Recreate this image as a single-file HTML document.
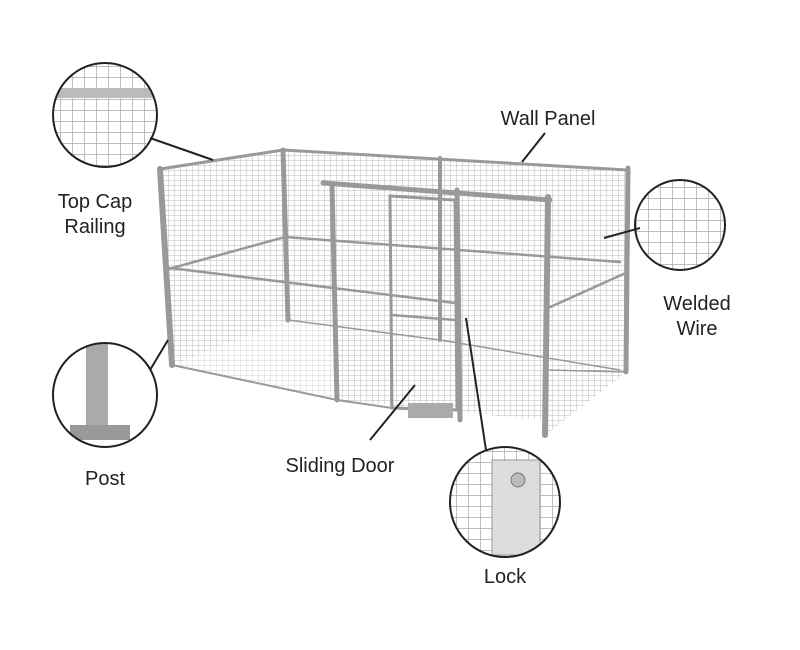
<!DOCTYPE html>
<html><head><style>
html,body{margin:0;padding:0;background:#fff;width:800px;height:650px;overflow:hidden}
svg{display:block}
text{font-family:"Liberation Sans",Arial,sans-serif;font-size:20px;fill:#222}
</style></head><body>
<svg width="800" height="650" viewBox="0 0 800 650">
<defs>
<pattern id="g" width="6" height="5" patternUnits="userSpaceOnUse">
<path d="M0 0H6M0 0V5" stroke="#b8b8b8" stroke-width="1" fill="none"/>
</pattern>
<pattern id="gf" width="6" height="5" patternUnits="userSpaceOnUse">
<path d="M0 0H6M0 0V5" stroke="#d4d4d4" stroke-width="1" fill="none"/>
</pattern>
<pattern id="gb" width="12" height="11" patternUnits="userSpaceOnUse">
<path d="M0 0H12M0 0V11" stroke="#aaa" stroke-width="1.5" fill="none"/>
</pattern>
<clipPath id="c1"><circle cx="105" cy="115" r="52"/></clipPath>
<clipPath id="c2"><circle cx="680" cy="225" r="45"/></clipPath>
<clipPath id="c3"><circle cx="105" cy="395" r="52"/></clipPath>
<clipPath id="c4"><circle cx="505" cy="502" r="55"/></clipPath>
</defs>
<g stroke="none">
<polygon fill="url(#gf)" points="172,365 288,320 540,360 540,420 337,400"/>
<polygon fill="url(#g)" points="160,169 283,150 288,320 172,365"/>
<polygon fill="url(#g)" points="283,150 627,170 620,370 288,320"/>
<polygon fill="url(#g)" points="548,197 628,168 626,372 545,435"/>
<polygon fill="url(#g)" points="335,185 548,200 545,420 337,400"/>
</g>
<g stroke="#999" fill="none" stroke-linecap="round">
<path d="M160,169 L283,150 L627,170" stroke-width="3"/>
<path d="M160,169 L172,365" stroke-width="6"/>
<path d="M283,150 L288,320" stroke-width="5"/>
<path d="M440,158 L440,340" stroke-width="4"/>
<path d="M628,168 L626,372" stroke-width="5"/>
<path d="M548,197 L545,435" stroke-width="6"/>
<path d="M323,183 L550,200" stroke-width="5"/>
<path d="M332,185 L337,400" stroke-width="5"/>
<path d="M390,196 L455,200 L457,410 L392,408 Z" stroke-width="3"/>
<path d="M457,190 L460,420" stroke-width="5"/>
<path d="M165,270 L285,237 L620,262" stroke-width="2.5"/>
<path d="M170,268 L455,303" stroke-width="2.5"/>
<path d="M392,315 L455,320" stroke-width="2.5"/>
<path d="M548,308 L628,272" stroke-width="2.5"/>
<path d="M172,365 L337,400 L392,408" stroke-width="2"/>
<path d="M288,320 L440,340 L620,370" stroke-width="1.5"/>
<path d="M548,370 L626,372" stroke-width="1.5"/>
</g>
<rect x="408" y="403" width="45" height="15" fill="#aaa"/>
<g clip-path="url(#c1)"><rect x="50" y="60" width="110" height="110" fill="url(#gb)"/><rect x="50" y="88" width="110" height="10" fill="#bbb"/></g>
<circle cx="105" cy="115" r="52" fill="none" stroke="#222" stroke-width="2"/>
<g clip-path="url(#c2)"><rect x="630" y="175" width="100" height="100" fill="url(#gb)"/></g>
<circle cx="680" cy="225" r="45" fill="none" stroke="#222" stroke-width="2"/>
<g clip-path="url(#c3)"><rect x="86" y="340" width="22" height="100" fill="#aaa"/><rect x="70" y="425" width="60" height="15" fill="#999"/></g>
<circle cx="105" cy="395" r="52" fill="none" stroke="#222" stroke-width="2"/>
<g clip-path="url(#c4)"><rect x="450" y="445" width="110" height="115" fill="url(#gb)"/><rect x="492" y="460" width="48" height="95" fill="#ddd" stroke="#999"/><circle cx="518" cy="480" r="7" fill="#bbb" stroke="#777"/></g>
<circle cx="505" cy="502" r="55" fill="none" stroke="#222" stroke-width="2"/>
<g stroke="#222" stroke-width="2">
<line x1="150" y1="138" x2="213" y2="160"/>
<line x1="545" y1="133" x2="522" y2="162"/>
<line x1="640" y1="228" x2="604" y2="238"/>
<line x1="150" y1="370" x2="168" y2="340"/>
<line x1="370" y1="440" x2="415" y2="385"/>
<line x1="466" y1="318" x2="486" y2="450"/>
</g>
<text x="95" y="208" text-anchor="middle">Top Cap</text>
<text x="95" y="233" text-anchor="middle">Railing</text>
<text x="548" y="125" text-anchor="middle">Wall Panel</text>
<text x="697" y="310" text-anchor="middle">Welded</text>
<text x="697" y="335" text-anchor="middle">Wire</text>
<text x="105" y="485" text-anchor="middle">Post</text>
<text x="340" y="472" text-anchor="middle">Sliding Door</text>
<text x="505" y="583" text-anchor="middle">Lock</text>
</svg>
</body></html>
